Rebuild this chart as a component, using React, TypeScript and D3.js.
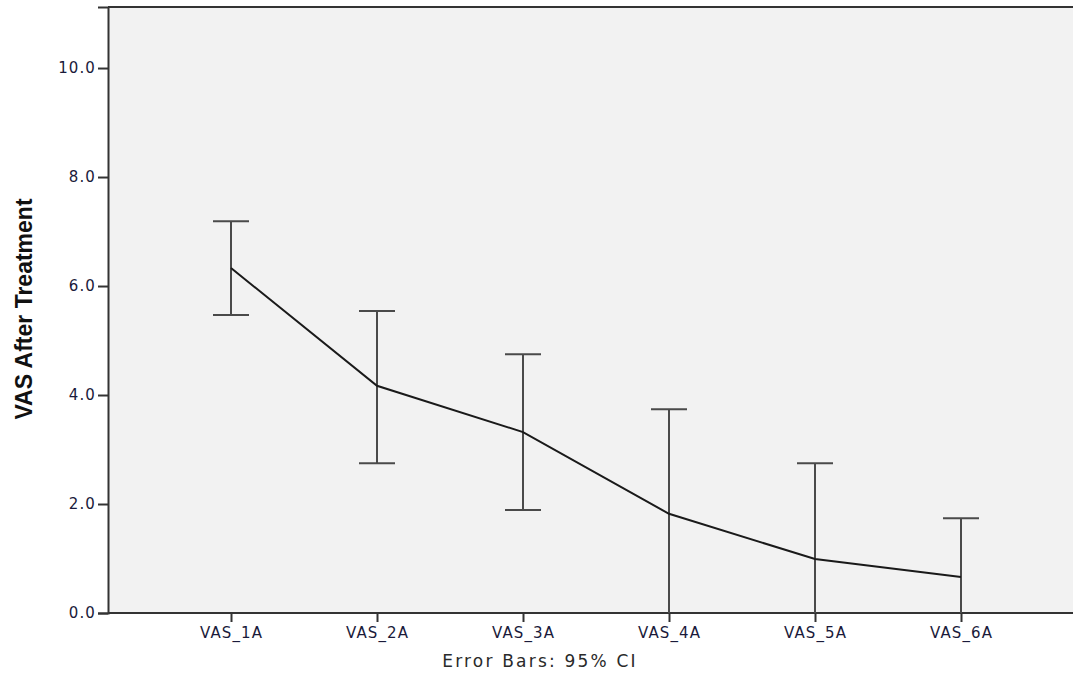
import React, { useEffect, useRef } from "react"
import * as d3 from "d3"

const categories = ["VAS_1A", "VAS_2A", "VAS_3A", "VAS_4A", "VAS_5A", "VAS_6A"]
const means = [6.33, 4.17, 3.32, 1.82, 0.99, 0.66]
const upper = [7.19, 5.54, 4.75, 3.74, 2.75, 1.74]
const lower = [5.47, 2.75, 1.89, 0, 0, 0]
const yTicks = [0, 2, 4, 6, 8, 10]

const width = 1073
const height = 675
const margin = { top: 7, right: 0, bottom: 62, left: 108 }

export default function App() {
  const ref = useRef<SVGSVGElement>(null)

  useEffect(() => {
    const svg = d3.select(ref.current)
    svg.selectAll("*").remove()

    const innerH = height - margin.top - margin.bottom

    const y = d3.scaleLinear().domain([0, 11.12]).range([margin.top + innerH, margin.top])
    const x = d3.scalePoint<string>().domain(categories).range([231, 961])

    // plot background
    svg
      .append("rect")
      .attr("x", margin.left)
      .attr("y", margin.top)
      .attr("width", width - margin.left)
      .attr("height", innerH)
      .attr("fill", "#f2f2f2")

    // top frame
    svg
      .append("line")
      .attr("x1", margin.left)
      .attr("x2", width)
      .attr("y1", margin.top)
      .attr("y2", margin.top)
      .attr("stroke", "#333")
      .attr("stroke-width", 2)

    const yAxis = svg
      .append("g")
      .attr("transform", `translate(${margin.left},0)`)
      .call(
        d3
          .axisLeft(y)
          .tickValues(yTicks)
          .tickSize(10)
          .tickPadding(2)
          .tickFormat(d3.format(".1f"))
      )
      .attr("font-family", "DejaVu Sans, Verdana, sans-serif")
      .attr("font-size", 15)
    yAxis.select(".domain").attr("stroke", "#333").attr("stroke-width", 2)
    yAxis.selectAll(".tick line").attr("stroke", "#333").attr("stroke-width", 2)
    yAxis
      .selectAll(".tick text")
      .attr("fill", "#1a1a3a")
      .attr("letter-spacing", 1.1)

    const xAxis = svg
      .append("g")
      .attr("transform", `translate(0,${y(0)})`)
      .call(d3.axisBottom(x).tickSize(9).tickPadding(5).tickSizeOuter(0))
      .attr("font-family", "DejaVu Sans, Verdana, sans-serif")
      .attr("font-size", 15)
    xAxis
      .select(".domain")
      .attr("d", `M${margin.left},0H${width}`)
      .attr("stroke", "#333")
      .attr("stroke-width", 2)
    xAxis.selectAll(".tick line").attr("stroke", "#333").attr("stroke-width", 2)
    xAxis
      .selectAll(".tick text")
      .attr("fill", "#1a1a3a")
      .attr("letter-spacing", 1.1)

    // error bars
    const bars = svg.append("g").attr("stroke", "#4a4a4a").attr("stroke-width", 2)
    const capHalf = 18
    categories.forEach((c, i) => {
      const cx = x(c)!
      bars
        .append("line")
        .attr("x1", cx)
        .attr("x2", cx)
        .attr("y1", y(upper[i]))
        .attr("y2", y(lower[i]))
      bars
        .append("line")
        .attr("x1", cx - capHalf)
        .attr("x2", cx + capHalf)
        .attr("y1", y(upper[i]))
        .attr("y2", y(upper[i]))
      if (lower[i] > 0) {
        bars
          .append("line")
          .attr("x1", cx - capHalf)
          .attr("x2", cx + capHalf)
          .attr("y1", y(lower[i]))
          .attr("y2", y(lower[i]))
      }
    })

    // mean line
    const line = d3
      .line<number>()
      .x((_, i) => x(categories[i])!)
      .y(d => y(d))
    svg
      .append("path")
      .datum(means)
      .attr("d", line)
      .attr("fill", "none")
      .attr("stroke", "#1a1a1a")
      .attr("stroke-width", 2)

    // y title
    svg
      .append("text")
      .attr("transform", `translate(32,${(198 + 420) / 2}) rotate(-90)`)
      .attr("text-anchor", "middle")
      .attr("font-family", "Liberation Sans Narrow, Liberation Sans, sans-serif")
      .attr("font-weight", "bold")
      .attr("font-size", 23)
      .attr("fill", "#111")
      .text("VAS After Treatment")

    // footnote
    svg
      .append("text")
      .attr("x", 540)
      .attr("y", 667)
      .attr("text-anchor", "middle")
      .attr("font-family", "DejaVu Sans, Verdana, sans-serif")
      .attr("font-size", 17)
      .attr("letter-spacing", 2.2)
      .attr("fill", "#2a2a2a")
      .text("Error Bars: 95% CI")
  }, [])

  return (
    <svg
      ref={ref}
      width={width}
      height={height}
      style={{ position: "absolute", left: 0, top: 0, background: "#fff" }}
    />
  )
}
